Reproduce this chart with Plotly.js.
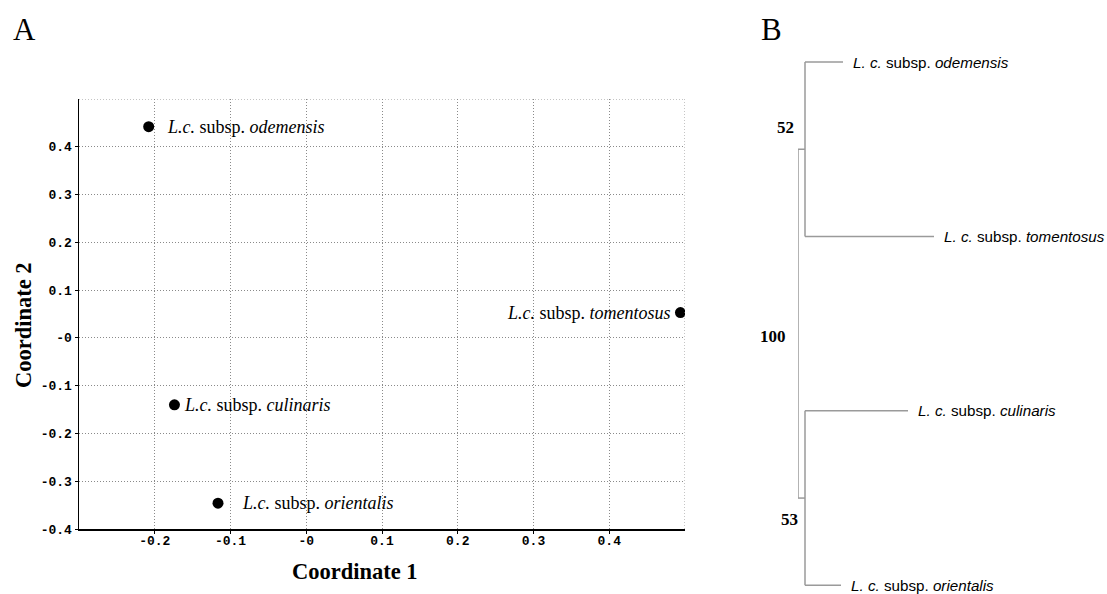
<!DOCTYPE html>
<html>
<head>
<meta charset="utf-8">
<script src="https://cdn.plot.ly/plotly-3.0.1.min.js"></script>
<style>html,body{margin:0;padding:0;background:#fff;}#chart{width:1107px;height:594px;}</style>
</head>
<body>
<div id="chart"></div>
<script>
// ---- Panel A: PCoA data ----
const subspecies = ['odemensis', 'tomentosus', 'culinaris', 'orientalis'];
const coord1 = [-0.208, 0.494, -0.174, -0.1165];
const coord2 = [0.442, 0.053, -0.140, -0.346];

const xTickVals = [-0.2, -0.1, 0, 0.1, 0.2, 0.3, 0.4];
const xTickText = ['-0.2', '-0.1', '-0', '0.1', '0.2', '0.3', '0.4'];
const yTickVals = [-0.4, -0.3, -0.2, -0.1, 0, 0.1, 0.2, 0.3, 0.4];
const yTickText = ['-0.4', '-0.3', '-0.2', '-0.1', '-0', '0.1', '0.2', '0.3', '0.4'];

// ---- Panel B: dendrogram data ----
const treeTaxa = ['odemensis', 'tomentosus', 'culinaris', 'orientalis'];
const leafBranch = [38, 129, 103, 36];      // terminal branch lengths
const cladeMembers = [[0, 1], [2, 3]];       // leaf indices of each clade
const cladeStem = [7, 7];                    // stem length of each clade from root
const bootstrap = [52, 100, 53];             // clade 1, root, clade 2

// ---- styling / placement (not data) ----
const labelSide = ['left', 'right', 'left', 'left'];
const labelShift = [16, -7, 8, 22];
const serif = 'Liberation Serif, Times New Roman, serif';
const mono = 'Liberation Mono, Courier New, monospace';
const sans = 'Liberation Sans, Arial, sans-serif';
const treeColor = '#9a9a9a';
const gridColor = '#8a8a8a';

const traces = [];
traces.push({
  type: 'scatter', mode: 'markers', x: coord1, y: coord2,
  xaxis: 'x', yaxis: 'y',
  marker: {color: '#000', size: 11}, hoverinfo: 'skip'
});

const annotations = [];
subspecies.forEach((s, i) => {
  annotations.push({
    xref: 'x', yref: 'y', x: coord1[i], y: coord2[i],
    text: '<i>L.c.</i> subsp. <i>' + s + '</i>',
    showarrow: false, xanchor: labelSide[i] === 'left' ? 'left' : 'right',
    xshift: labelShift[i], yanchor: 'middle',
    font: {family: serif, size: 18, color: '#000'}
  });
});

// build dendrogram segments
const segX = [], segY = [];
function seg(x0, y0, x1, y1) { segX.push(x0, x1, null); segY.push(y0, y1, null); }
const nodeY = cladeMembers.map(m => m.reduce((a, b) => a + b, 0) / m.length);
cladeMembers.forEach((m, c) => {
  const nx = cladeStem[c];
  m.forEach(i => seg(nx, i, nx + leafBranch[i], i));
  seg(nx, Math.min(...m), nx, Math.max(...m));
  seg(0, nodeY[c], nx, nodeY[c]);
});
seg(0, nodeY[0], 0, nodeY[1]);
traces.push({
  type: 'scatter', mode: 'lines', x: segX, y: segY, xaxis: 'x2', yaxis: 'y2',
  line: {color: treeColor, width: 1.5}, hoverinfo: 'skip', connectgaps: false
});

// leaf labels
treeTaxa.forEach((t, i) => {
  const c = cladeMembers.findIndex(m => m.includes(i));
  annotations.push({
    xref: 'x2', yref: 'y2', x: cladeStem[c] + leafBranch[i], y: i,
    text: '<i>L. c.</i> subsp. <i>' + t + '</i>',
    showarrow: false, xanchor: 'left', yanchor: 'middle', xshift: 8,
    font: {family: sans, size: 15.2, color: '#000'}
  });
});

// bootstrap labels: clade 1, root, clade 2
const bsPos = [
  {x: cladeStem[0], y: nodeY[0], dx: -20, dy: 22},
  {x: 0, y: (nodeY[0] + nodeY[1]) / 2, dx: -25, dy: -13},
  {x: cladeStem[1], y: nodeY[1], dx: -16, dy: -21}
];
bootstrap.forEach((b, k) => {
  annotations.push({
    xref: 'x2', yref: 'y2', x: bsPos[k].x, y: bsPos[k].y,
    text: '<b>' + b + '</b>', showarrow: false,
    xanchor: 'center', yanchor: 'middle', xshift: bsPos[k].dx, yshift: bsPos[k].dy,
    font: {family: serif, size: 17, color: '#000'}
  });
});

// axis titles and panel letters
annotations.push({xref: 'paper', yref: 'paper', x: 355 / 1107, y: 1 - 571 / 594,
  text: '<b>Coordinate 1</b>', showarrow: false, xanchor: 'center', yanchor: 'middle',
  font: {family: serif, size: 22.5, color: '#000'}});
annotations.push({xref: 'paper', yref: 'paper', x: 23 / 1107, y: 1 - 325 / 594,
  text: '<b>Coordinate 2</b>', showarrow: false, textangle: -90, xanchor: 'center', yanchor: 'middle',
  font: {family: serif, size: 22.5, color: '#000'}});
annotations.push({xref: 'paper', yref: 'paper', x: 24.5 / 1107, y: 1 - 29 / 594,
  text: 'A', showarrow: false, xanchor: 'center', yanchor: 'middle',
  font: {family: serif, size: 31, color: '#000'}});
annotations.push({xref: 'paper', yref: 'paper', x: 772 / 1107, y: 1 - 29 / 594,
  text: 'B', showarrow: false, xanchor: 'center', yanchor: 'middle',
  font: {family: serif, size: 31, color: '#000'}});

const gridStyle = {showgrid: true, gridcolor: gridColor, griddash: '1px,2px', gridwidth: 1};
const tickFont = {family: mono, size: 13, color: '#000', weight: 'bold'};
const layout = {
  width: 1107, height: 594,
  margin: {l: 0, r: 0, t: 0, b: 0},
  paper_bgcolor: '#fff', plot_bgcolor: '#fff',
  showlegend: false,
  xaxis: Object.assign({
    domain: [79 / 1107, 685 / 1107], range: [-0.3, 0.5],
    tickmode: 'array', tickvals: xTickVals, ticktext: xTickText,
    showline: true, linecolor: '#000', linewidth: 1.5, zeroline: false,
    ticks: 'outside', ticklen: 3, tickcolor: '#000', tickwidth: 1,
    ticklabelstandoff: -4,
    tickfont: tickFont, fixedrange: true, anchor: 'y'
  }, gridStyle),
  yaxis: Object.assign({
    domain: [1 - 529 / 594, 1 - 99 / 594], range: [-0.4, 0.5],
    tickmode: 'array', tickvals: yTickVals, ticktext: yTickText,
    showline: true, linecolor: '#000', linewidth: 1.5, zeroline: false,
    ticks: 'outside', ticklen: 3, tickcolor: '#000', tickwidth: 1,
    tickfont: tickFont, fixedrange: true, anchor: 'x'
  }, gridStyle),
  xaxis2: {domain: [798 / 1107, 1], range: [0, 309], visible: false, fixedrange: true, anchor: 'y2'},
  yaxis2: {domain: [0, 1 - 44.6 / 594], range: [3.05, -0.1], visible: false, fixedrange: true, anchor: 'x2'},
  shapes: [
    {type: 'line', xref: 'x', yref: 'y', x0: -0.3, x1: 0.5, y0: 0.5, y1: 0.5,
      line: {color: gridColor, width: 1, dash: '1px,2px'}},
    {type: 'line', xref: 'x', yref: 'y', x0: 0.5, x1: 0.5, y0: -0.4, y1: 0.5,
      line: {color: gridColor, width: 1, dash: '1px,2px'}}
  ],
  annotations: annotations
};

Plotly.newPlot('chart', traces, layout, {displayModeBar: false, staticPlot: true});
</script>
</body>
</html>
